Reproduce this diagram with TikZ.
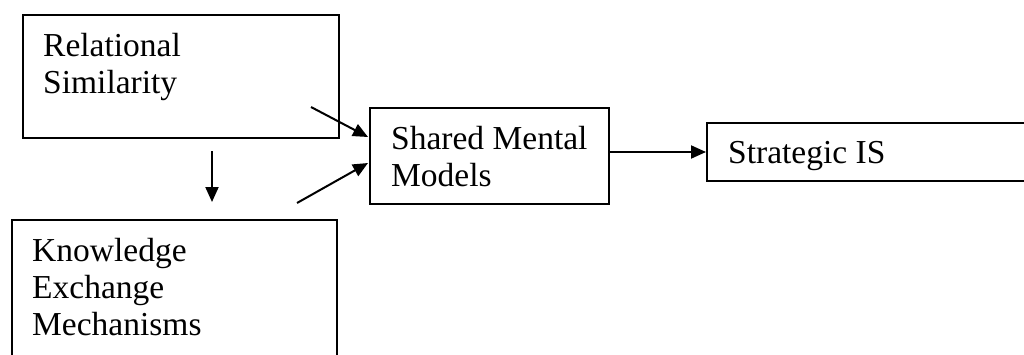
\documentclass[tikz,border=0pt]{standalone}
\usepackage{fontspec}
\setmainfont{Liberation Serif}
\usetikzlibrary{arrows.meta}
\begin{document}
\begin{tikzpicture}[x=1pt,y=-1pt,
  box/.style={draw, line width=2pt, rectangle, inner sep=0pt, anchor=north west},
  txt/.style={anchor=base west, inner sep=0pt, font=\fontsize{33.5}{37}\selectfont, align=left},
  arr/.style={line width=2pt, -{Triangle[length=15pt,width=13pt]}}]
\clip (0,0) rectangle (1024,354);
\fill[white] (0,0) rectangle (1024,354);
% boxes
\node[box, minimum width=316pt, minimum height=123pt] (rs) at (22,14) {};
\node[box, minimum width=325pt, minimum height=180pt] (ke) at (11,219) {};
\node[box, minimum width=239pt, minimum height=96pt] (sm) at (369,107) {};
\node[box, minimum width=330pt, minimum height=58pt] (si) at (706,122) {};
% texts (base = baseline of last line)
\node[txt] (rst) at (43,93) {Relational\\Similarity};
\node[txt] (ket) at (32,335) {Knowledge\\Exchange\\Mechanisms};
\node[txt] (smt) at (391,186) {Shared Mental\\Models};
\node[txt] (sit) at (728,163) {Strategic IS};
% connector end points
\coordinate (d1) at (212,151);
\coordinate (d2) at (212,202);
\coordinate (a1) at (311,107);
\coordinate (a1e) at (368,137);
\coordinate (b1) at (297,203);
\coordinate (b1e) at (368,163);
% connectors
\draw[arr] (d1) -- (d2);
\draw[arr] (a1) -- (a1e);
\draw[arr] (b1) -- (b1e);
\draw[arr] (sm.east |- si.west) -- (si.west);
\end{tikzpicture}
\end{document}
